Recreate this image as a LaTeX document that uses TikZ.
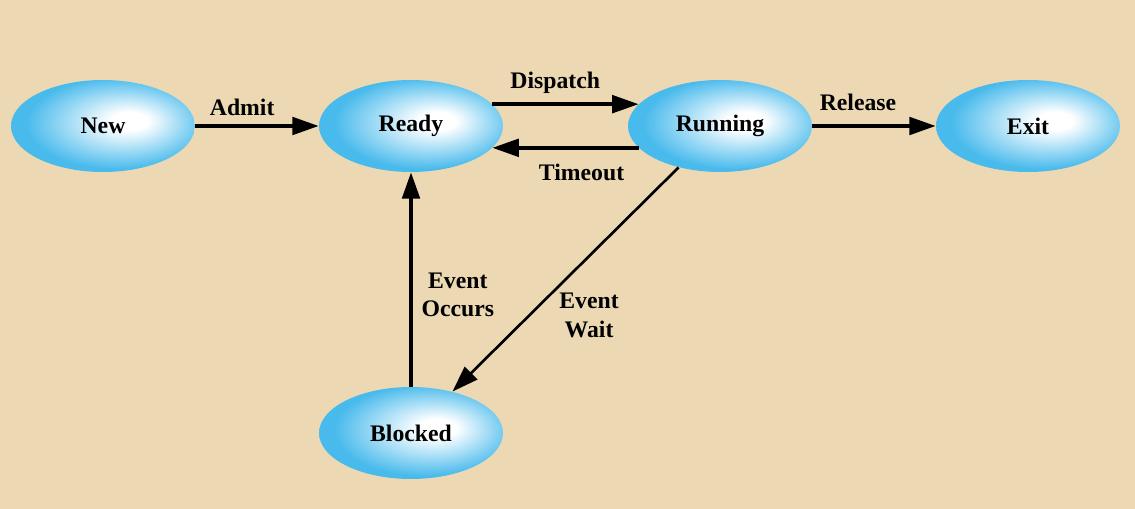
\documentclass[tikz,border=0pt]{standalone}
\usepackage{fontspec}
\setmainfont{Liberation Serif}
\usetikzlibrary{shapes.geometric,arrows.meta}
\definecolor{parchment}{RGB}{236,217,180}
\definecolor{bubbleblue}{RGB}{72,186,236}
\pgfdeclareradialshading{bubble}{\pgfpoint{8bp}{3bp}}{color(0bp)=(white); color(5bp)=(white); color(25bp)=(bubbleblue); color(50bp)=(bubbleblue)}
\tikzstyle{state} = [ellipse, minimum width=3.68cm, minimum height=1.84cm, inner sep=0pt, shading=bubble, font=\fontsize{13.5}{16}\selectfont\bfseries]
\tikzstyle{trans} = [line width=2pt, -{Triangle[length=15pt,width=10pt]}]
\tikzstyle{lbl} = [font=\fontsize{13.5}{16}\selectfont\bfseries, align=center, inner sep=5pt]

\begin{document}
\begin{tikzpicture}[x=.02cm,y=-.02cm]%
	\fill[parchment] (0,0) rectangle (1135,509);
	\node[state] (new) at (103,126) {\raisebox{-2pt}{New}};
	\node[state] (ready) at (411,126) {\raisebox{-2pt}{Ready}};
	\node[state] (running) at (720,126) {\raisebox{-2pt}{Running}};
	\node[state] (exit) at (1028,126) {\raisebox{-2pt}{Exit}};
	\node[state] (blocked) at (411,433) {\raisebox{-2pt}{Blocked}};
	\draw[trans] (new) -- node[lbl, above, pos=.38] (admit) {Admit} (ready);
	\draw[trans] (ready.15) -- node[lbl, above, pos=.43] (dispatch) {Dispatch} (running.165);
	\draw[trans] (running.195) -- node[lbl, below, pos=.39, yshift=-.12cm] (timeout) {Timeout} (ready.345);
	\draw[trans] (running) -- node[lbl, above, pos=.37, yshift=.1cm] (release) {Release} (exit);
	\draw[trans] (blocked) -- node[lbl, right, pos=.43] (occurs) {Event\\Occurs} (ready);
	\draw[trans, line width=1.5pt] (running.225) -- node[lbl, right=.4cm, pos=.66] (wait) {Event\\Wait} (blocked.45);
\end{tikzpicture}
\end{document}
